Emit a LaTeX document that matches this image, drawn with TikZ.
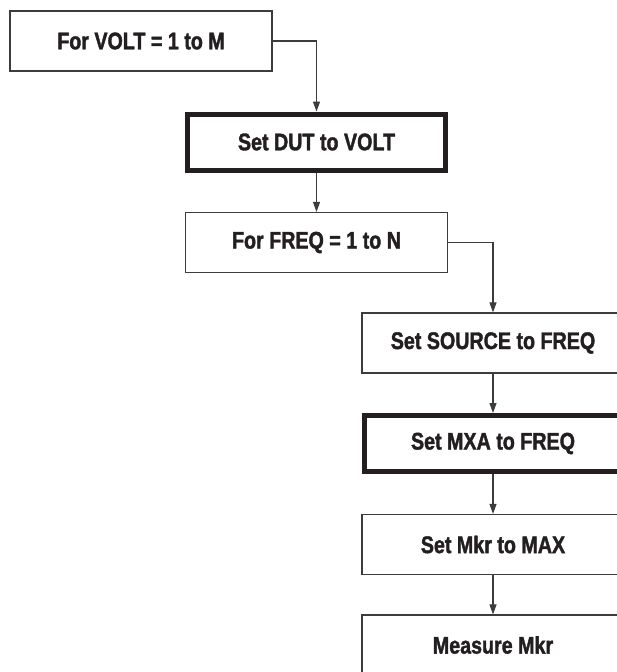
\documentclass[tikz,border=0pt]{standalone}
\usepackage{fontspec}
\newfontfamily\condfont[FakeStretch=0.82,BoldFeatures={FakeBold=1.6}]{Liberation Sans}
\usetikzlibrary{arrows.meta}
\definecolor{ink}{HTML}{231F20}
\definecolor{linegray}{HTML}{3C3C3C}
\tikzset{
  stepbox/.style={draw=linegray, line width=1.2pt, fill=white, minimum width=262pt, minimum height=60pt,
    inner sep=0pt, font=\condfont\bfseries\fontsize{24}{28}\selectfont, text=ink, anchor=center},
  keybox/.style={stepbox, draw=ink, line width=5pt, minimum width=258pt, minimum height=56pt},
  flow/.style={draw=linegray, line width=1.1pt, -{Triangle[length=10pt,width=7pt]}}
}
\begin{document}
\begin{tikzpicture}[x=1pt,y=-1pt]
\useasboundingbox (0,0) rectangle (617,672);
\node[stepbox] (b1) at (141,41) {For VOLT = 1 to M};
\node[keybox]  (b2) at (316.5,142) {Set DUT to VOLT};
\node[stepbox] (b3) at (316.5,242.5) {For FREQ = 1 to N};
\node[stepbox] (b4) at (493,343) {Set SOURCE to FREQ};
\node[keybox]  (b5) at (493,443.5) {Set MXA to FREQ};
\node[stepbox] (b6) at (493,544.5) {Set Mkr to MAX};
\node[stepbox] (b7) at (493,645) {Measure Mkr};
\draw[flow] (b1.east) -| (b2.north);
\draw[flow] (b2.south) -- (b3.north);
\draw[flow] (b3.east) -| (b4.north);
\draw[flow] (b4.south) -- (b5.north);
\draw[flow] (b5.south) -- (b6.north);
\draw[flow] (b6.south) -- (b7.north);
\end{tikzpicture}
\end{document}
